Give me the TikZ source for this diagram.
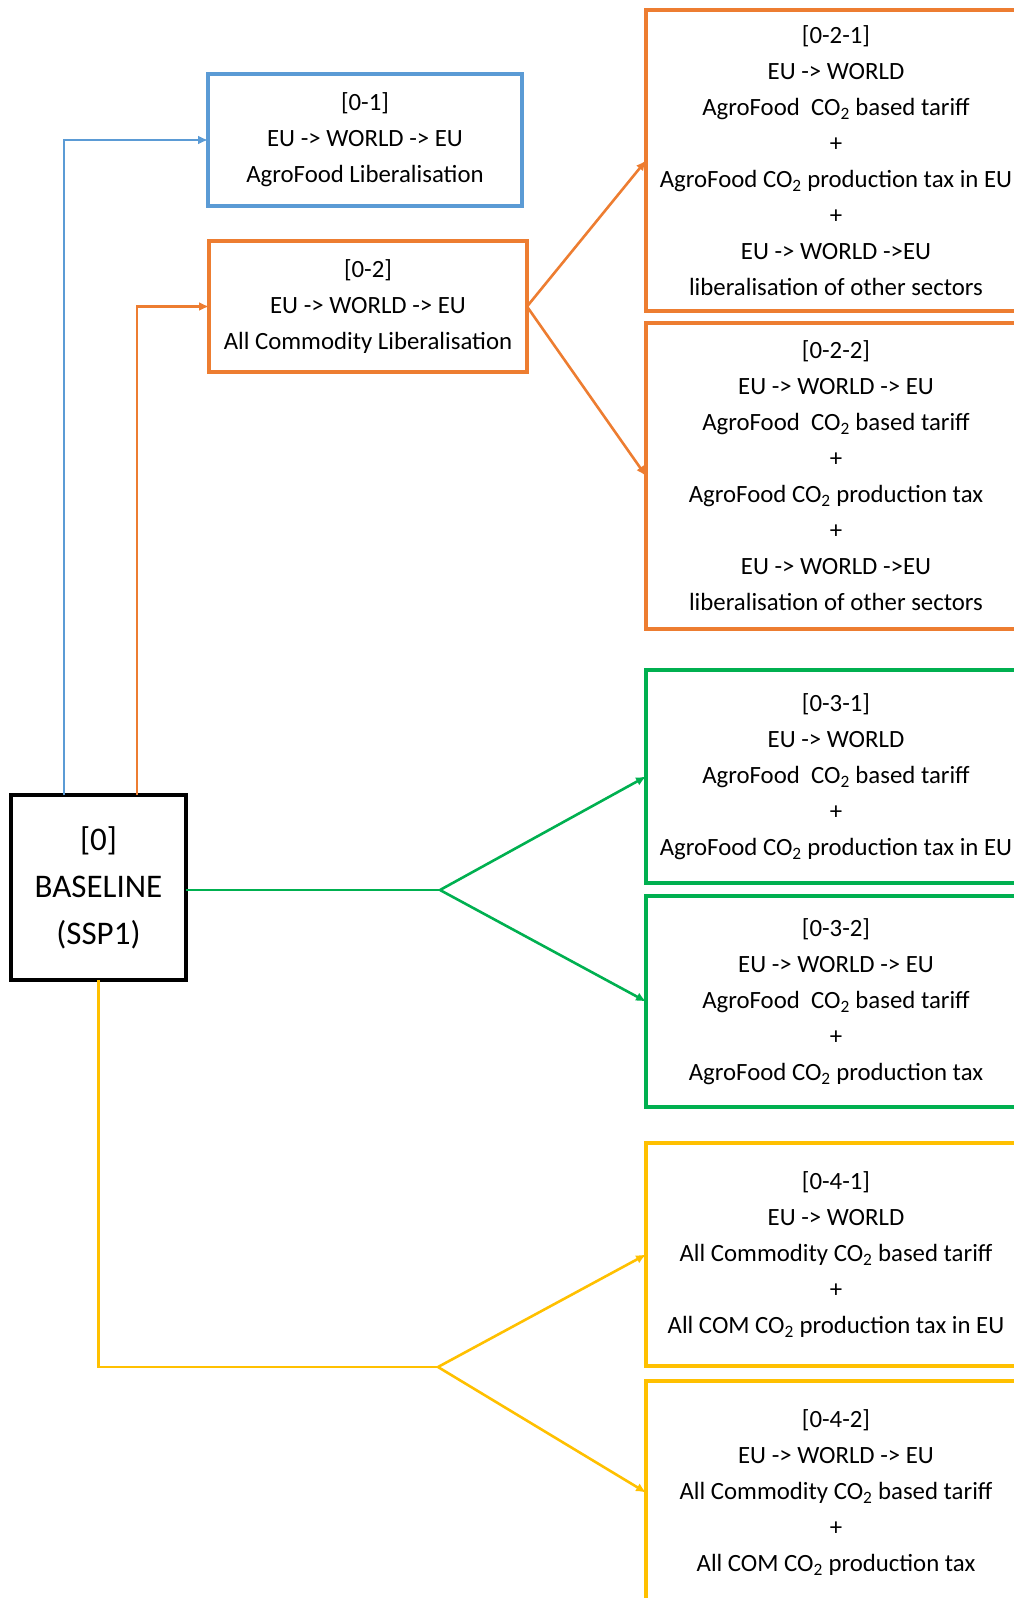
\documentclass[tikz,border=0pt]{standalone}
\usepackage{fontspec}
\setmainfont{Carlito}
\usepackage{tikz}
\usetikzlibrary{arrows.meta,positioning}
\usepackage{xcolor}
\definecolor{xlblue}{HTML}{5B9BD5}
\definecolor{xlorange}{HTML}{ED7D31}
\definecolor{xlgreen}{HTML}{00B050}
\definecolor{xlyellow}{HTML}{FFC000}
\newcommand{\COtwo}{CO\textsubscript{2}}

\begin{document}
\begin{tikzpicture}[
  x=1pt, y=-1pt,
  box/.style={draw, line width=4pt, inner sep=0pt, outer sep=0pt, align=center,
    font=\fontsize{24.8}{36}\selectfont},
  leaf/.style={box, minimum width=380pt},
  arr/.style={-{Latex[length=10pt,width=9pt]}, line width=2.6pt},
  link/.style={line width=2.6pt}
]
  \useasboundingbox (0,0) rectangle (1014,1598);
  \clip (0,0) rectangle (1014,1598);

  \node[box, anchor=north west, minimum width=175pt, minimum height=185pt,
    font=\fontsize{33}{47}\selectfont] (base) at (11,795) {[0]\\BASELINE\\(SSP1)};
  \node[box, draw=xlblue, anchor=north west, minimum width=314pt, minimum height=132pt]
    (b01) at (208,74) {[0-1]\\EU -> WORLD -> EU\\AgroFood Liberalisation};
  \node[box, draw=xlorange, anchor=north west, minimum width=318pt, minimum height=131pt]
    (b02) at (209,241) {[0-2]\\EU -> WORLD -> EU\\All Commodity Liberalisation};

  \node[leaf, draw=xlorange, anchor=north west, minimum height=301pt] (b021) at (646,10)
    {[0-2-1]\\EU -> WORLD\\AgroFood\ \ \COtwo{} based tariff\\+\\AgroFood \COtwo{} production tax in EU\\+\\EU -> WORLD ->EU\\liberalisation of other sectors};
  \node[leaf, draw=xlorange, minimum height=306pt, below=12pt of b021] (b022)
    {[0-2-2]\\EU -> WORLD -> EU\\AgroFood\ \ \COtwo{} based tariff\\+\\AgroFood \COtwo{} production tax\\+\\EU -> WORLD ->EU\\liberalisation of other sectors};
  \node[leaf, draw=xlgreen, anchor=north west, minimum height=213pt] (b031) at (646,670)
    {[0-3-1]\\EU -> WORLD\\AgroFood\ \ \COtwo{} based tariff\\+\\AgroFood \COtwo{} production tax in EU};
  \node[leaf, draw=xlgreen, minimum height=211pt, below=13pt of b031] (b032)
    {[0-3-2]\\EU -> WORLD -> EU\\AgroFood\ \ \COtwo{} based tariff\\+\\AgroFood \COtwo{} production tax};
  \node[leaf, draw=xlyellow, anchor=north west, minimum height=223pt] (b041) at (646,1143)
    {[0-4-1]\\EU -> WORLD\\All Commodity \COtwo{} based tariff\\+\\All COM \COtwo{} production tax in EU};
  \node[leaf, draw=xlyellow, minimum height=223pt, below=15pt of b041] (b042)
    {[0-4-2]\\EU -> WORLD -> EU\\All Commodity \COtwo{} based tariff\\+\\All COM \COtwo{} production tax};

  % branch points
  \coordinate (bup) at ([xshift=53pt]base.north west);
  \coordinate (oup) at ([xshift=126pt]base.north west);
  \coordinate (gsplit) at (440,890);
  \coordinate (ysplit) at (438,1367);

  \draw[arr, xlblue] (bup) |- (b01.west);
  \draw[arr, xlorange] (oup) |- (b02.west);
  \draw[arr, xlorange] (b02.east) -- (b021.west);
  \draw[arr, xlorange] (b02.east) -- (b022.west);
  \draw[link, xlgreen] (base.east |- gsplit) -- (gsplit);
  \draw[arr, xlgreen] (gsplit) -- (b031.west);
  \draw[arr, xlgreen] (gsplit) -- (b032.west);
  \draw[link, xlyellow] (base.south) |- (ysplit);
  \draw[arr, xlyellow] (ysplit) -- (b041.west);
  \draw[arr, xlyellow] (ysplit) -- (b042.west);
\end{tikzpicture}
\end{document}
